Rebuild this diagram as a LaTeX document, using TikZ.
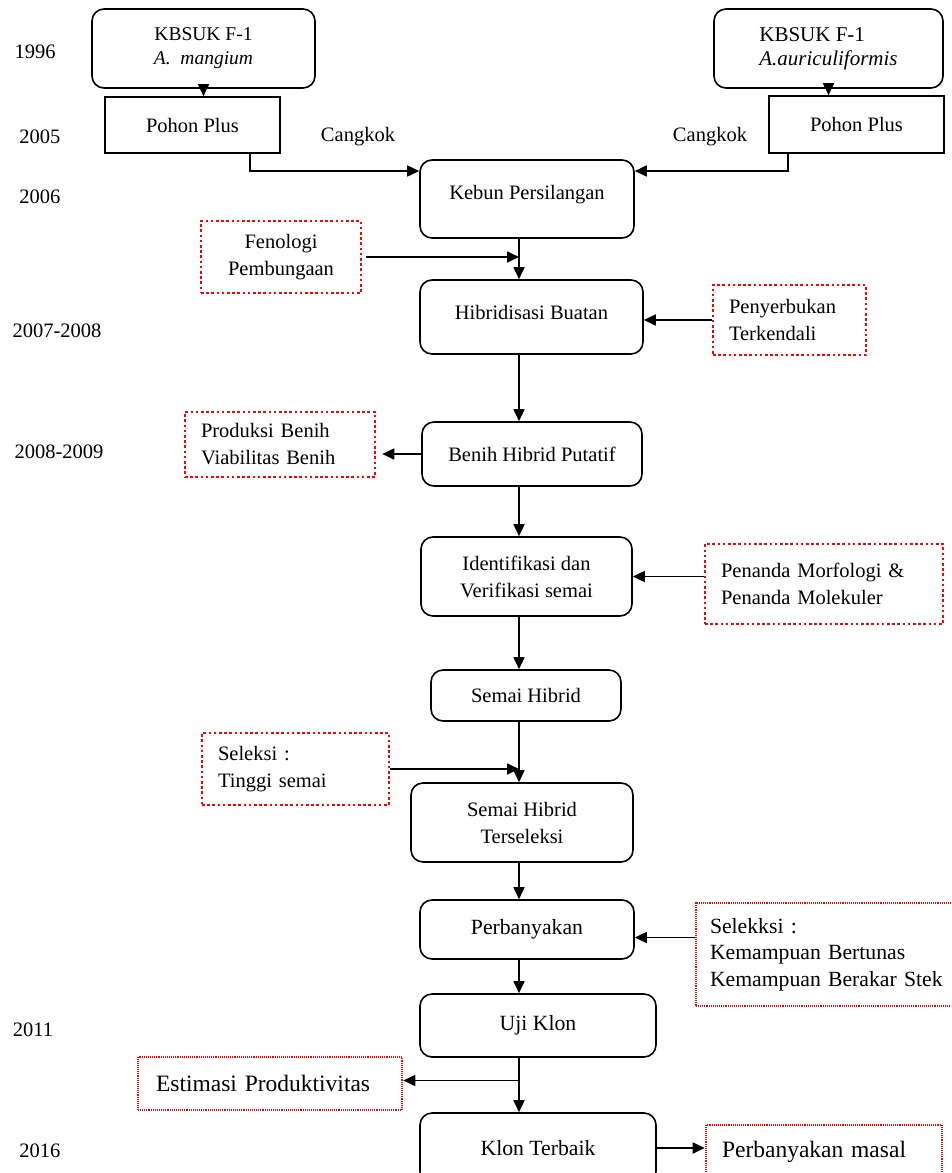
\documentclass[tikz,border=0pt]{standalone}
\usepackage{fontspec}
\setmainfont{Liberation Serif}
\usetikzlibrary{arrows.meta,positioning}

\begin{document}
\begin{tikzpicture}[x=1pt, y=-1pt,
    every node/.style={font=\fontsize{20.5}{27}\selectfont},
    proc/.style={draw, line width=1.6pt, rounded corners=12pt, align=center, inner sep=0pt},
    plus/.style={draw, line width=1.6pt, align=center, inner sep=0pt},
    note/.style={draw=red, line width=2.6pt, dash pattern=on 2.6pt off 2.6pt, align=center, inner sep=0pt},
    notel/.style={note, align=left, inner xsep=16pt, inner ysep=0pt},
    lownote/.style={draw=red, line width=2.6pt, dash pattern=on 1pt off 0.9pt, align=left, inner xsep=16pt, inner ysep=0pt},
    low/.style={font=\fontsize{21.7}{26.5}\selectfont},
    big/.style={font=\fontsize{23.5}{28}\selectfont},
    arr/.style={-{Triangle[length=12pt,width=11pt]}, line width=1.7pt}]
    \useasboundingbox (0,0) rectangle (951,1173);
    \clip (0,0) rectangle (951,1173);
    \coordinate (spine) at (519,0);
    % years
    \node (y1996) at (35,52) {1996};
    \node (y2005) at (40,137) {2005};
    \node (y2006) at (40,197) {2006};
    \node (y2007) at (57,331) {2007-2008};
    \node (y2008) at (59,452) {2008-2009};
    \node (y2011) at (33,1030) {2011};
    \node (y2016) at (40,1151) {2016};
    % parents
    \node[proc, minimum width=223pt, minimum height=79pt, font=\fontsize{19.5}{24}\selectfont] (kbsukA) at (203.5,48.5) {KBSUK F-1\\\textit{A.\ \ mangium}};
    \node[proc, minimum width=229pt, minimum height=79pt, align=left, font=\fontsize{21}{24}\selectfont] (kbsukB) at (828.5,48.5) {KBSUK F-1\\\textit{A.auriculiformis}};
    \node[plus, minimum width=175pt, minimum height=56pt] (plusA) at (192.5,125) {Pohon Plus};
    \node[plus, minimum width=175pt, minimum height=57pt] (plusB) at (856.5,124.5) {Pohon Plus};
    \node (cangA) at (358,137) {Cangkok};
    \node (cangB) at (710,137) {Cangkok};
    % main line
    \node[proc, minimum width=214pt, minimum height=78pt, text height=14pt, text depth=14pt] (kebun) at (527,199) {Kebun Persilangan};
    \node[proc, minimum width=223pt, minimum height=74pt, text height=14pt, text depth=10pt] (hibrid) at (531.5,317) {Hibridisasi Buatan};
    \node[proc, minimum width=220pt, minimum height=64pt] (benih) at (532,454) {Benih Hibrid Putatif};
    \node[proc, minimum width=211pt, minimum height=79pt] (identif) at (526.5,576.5) {Identifikasi dan\\Verifikasi semai};
    \node[proc, minimum width=190pt, minimum height=51pt] (semai) at (526,695.5) {Semai Hibrid};
    \node[proc, minimum width=222pt, minimum height=79pt] (tersel) at (522,822.5) {Semai Hibrid\\Terseleksi};
    \node[proc, low, minimum width=214pt, minimum height=59pt] (perban) at (527,929.5) {Perbanyakan};
    \node[proc, low, minimum width=236pt, minimum height=63pt] (uji) at (538,1025.5) {Uji Klon};
    \node[proc, low, minimum width=236pt, minimum height=70pt] (klon) at (538,1148) {Klon Terbaik};
    % side notes
    \node[note, minimum width=160pt, minimum height=72pt] (fenol) at (281,257) {Fenologi\\Pembungaan};
    \node[notel, text width=121pt, minimum height=70pt] (penyer) at (789.5,320) {Penyerbukan\\Terkendali};
    \node[notel, text width=158pt, minimum height=65pt] (produk) at (280,444.5) {Produksi Benih\\Viabilitas Benih};
    \node[notel, text width=206pt, minimum height=80pt] (penanda) at (824,584) {Penanda Morfologi \&\\Penanda Molekuler};
    \node[notel, text width=155pt, minimum height=72pt] (seleksi) at (295.5,769) {Seleksi :\\Tinggi semai};
    \node[lownote, low, inner xsep=14pt, text width=236pt, minimum height=103pt] (selekk) at (828,954.5) {Selekksi :\\Kemampuan Bertunas\\Kemampuan Berakar Stek};
    \node[lownote, big, inner xsep=18pt, text width=228pt, minimum height=53pt] (estim) at (270,1083.5) {Estimasi Produktivitas};
    \node[lownote, big, text width=204pt, minimum height=54pt] (masal) at (824,1152) {Perbanyakan masal};
    % connectors
    \draw[arr] (kbsukA.south) -- (kbsukA.south |- plusA.north);
    \draw[arr] (kbsukB.south) -- (kbsukB.south |- plusB.north);
    \draw[arr] ([xshift=57.5pt]plusA.south) |- ([yshift=28pt]kebun.west);
    \draw[arr] ([xshift=-68.5pt]plusB.south) |- ([yshift=28pt]kebun.east);
    \draw[arr] (kebun.south -| spine) -- (hibrid.north -| spine);
    \draw[arr, shorten <=4pt] (fenol.east) -- (fenol.east -| spine);
    \draw[arr] (penyer.west) -- (penyer.west -| hibrid.east);
    \draw[arr] (hibrid.south -| spine) -- (benih.north -| spine);
    \draw[arr, shorten >=6pt] (benih.west) -- (benih.west -| produk.east);
    \draw[arr] (benih.south -| spine) -- (identif.north -| spine);
    \draw[arr] (penanda.west |- identif.east) -- (identif.east);
    \draw[arr] (identif.south -| spine) -- (semai.north -| spine);
    \draw[arr] (seleksi.east) -- (seleksi.east -| spine);
    \draw[arr] (semai.south -| spine) -- (tersel.north -| spine);
    \draw[arr] (tersel.south -| spine) -- (perban.north -| spine);
    \coordinate (perbanIn) at ([yshift=-8pt]perban.east);
    \draw[arr] (selekk.west |- perbanIn) -- (perbanIn);
    \draw[arr] (perban.south -| spine) -- (uji.north -| spine);
    \draw[arr] (uji.south -| spine) -- (klon.north -| spine);
    \draw[arr] ([yshift=3pt]estim.east -| spine) -- ([yshift=3pt]estim.east);
    \draw[arr] (klon.east) -- (klon.east -| masal.west);
\end{tikzpicture}
\end{document}
